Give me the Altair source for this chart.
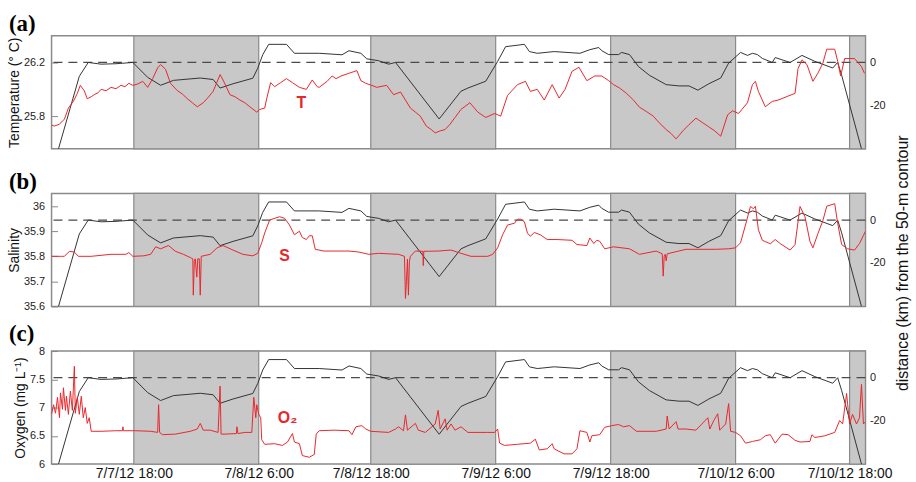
import altair as alt
import pandas as pd

# Time axis: hours after 7/7/12 18:00
X_DOMAIN = [-8.5, 73.6]
night_start = [-0.2, 23.7, 47.9, 72.0]
night_end = [12.4, 36.3, 60.5, 73.6]
tick_hours = [-0.2, 12.4, 23.7, 36.3, 47.9, 60.5, 72.0]
tick_labels = ["7/7/12 18:00", "7/8/12 6:00", "7/8/12 18:00", "7/9/12 6:00",
               "7/9/12 18:00", "7/10/12 6:00", "7/10/12 18:00"]

# Distance (km) from the 50-m contour: [hour, km]
distance = [
    [-7.8, -40.5], [-5.7, -6.5], [-4.8, 0.0], [-3.5, -0.8], [-2.0, -0.6], [-0.3, 0.0],
    [1.2, -7.0], [2.5, -10.7], [3.8, -8.4], [6.5, -7.3], [7.8, -8.0], [8.5, -12.0],
    [9.8, -10.0], [11.8, -7.4], [12.3, -2.7], [12.8, 3.6], [13.4, 8.5], [15.2, 8.5],
    [16.0, 4.3], [18.5, 4.3], [20.8, 3.6], [21.5, 5.5], [22.7, 4.3], [23.3, 1.7],
    [24.5, 0.8], [25.5, -0.8], [26.2, 0.0], [30.6, -26.5], [32.8, -13.5], [33.5, -12.0],
    [35.3, -8.8], [36.5, 0.5], [37.3, 7.4], [39.2, 8.5], [39.7, 5.1], [40.5, 4.3],
    [42.2, 5.1], [44.8, 4.3], [45.8, 6.0], [46.7, 7.0], [47.0, 5.5], [47.7, 3.7],
    [48.7, 3.7], [49.0, 4.7], [49.8, 3.7], [50.7, -1.9], [51.8, -6.0], [53.5, -10.4],
    [54.8, -11.0], [55.8, -11.0], [56.7, -13.0], [57.8, -10.0], [59.0, -7.3], [59.8, -0.3],
    [61.0, 4.7], [61.7, 3.3], [62.2, 4.3], [62.7, 3.7], [63.2, 1.9], [64.2, 0.0],
    [64.5, 2.3], [66.0, 0.0], [67.2, 3.3], [68.5, 0.5], [70.3, -2.6], [70.8, 0.0],
    [71.2, -6.0], [73.2, -40.5],
]

# Temperature (deg C): [hour, value]
temperature = [
    [-8.5, 25.733], [-8.2, 25.726], [-7.7, 25.74], [-7.2, 25.778], [-6.8, 25.86], [-6.3, 25.91],
    [-5.9, 25.97], [-5.6, 26.03], [-5.2, 25.99], [-4.9, 25.93], [-4.5, 25.945], [-4.2, 25.96],
    [-3.8, 25.975], [-3.5, 26.0], [-3.0, 25.99], [-2.5, 26.015], [-2.0, 26.005], [-1.5, 26.03],
    [-1.1, 26.02], [-0.7, 26.045], [-0.3, 26.03], [0.2, 26.04], [0.7, 26.06],
    [1.2, 26.015], [1.7, 26.08], [2.2, 26.16], [2.5, 26.185], [3.0, 26.15], [3.5, 26.045],
    [4.2, 25.99], [4.7, 25.965], [5.2, 25.93], [5.7, 25.9], [6.2, 25.87], [6.8, 25.9],
    [7.3, 25.94], [7.8, 25.985], [8.5, 26.11],
    [8.8, 26.07], [9.5, 25.96], [10.0, 25.945], [10.5, 25.92], [11.0, 25.9], [11.5, 25.87],
    [12.2, 25.83], [12.5, 25.85],
    [13.0, 25.86], [13.2, 25.93], [13.6, 26.05], [14.0, 26.02], [14.6, 26.05], [15.2, 26.08],
    [15.8, 26.05], [16.5, 26.015], [17.2, 26.0], [17.8, 26.07], [18.3, 26.02], [18.5, 26.015],
    [19.3, 26.06], [19.8, 26.1], [20.2, 26.08], [20.7, 26.1], [21.5, 26.12], [22.3, 26.14],
    [22.7, 26.065], [23.2, 26.045], [23.8, 26.03],
    [24.3, 26.015], [25.3, 26.03], [26.0, 25.96], [26.7, 25.98], [27.2, 25.92], [27.7, 25.86],
    [28.2, 25.83], [28.7, 25.8], [29.3, 25.726], [29.8, 25.7], [30.2, 25.675], [30.7, 25.69],
    [31.2, 25.7], [31.7, 25.74], [32.2, 25.79], [32.8, 25.85], [33.7, 25.9],
    [34.5, 25.83], [35.3, 25.79], [36.2, 25.82], [36.8, 25.8], [37.5, 25.955], [38.5, 26.035],
    [39.3, 26.06], [39.8, 25.985], [40.5, 26.0], [41.2, 25.92], [42.0, 26.035], [42.7, 25.935],
    [43.3, 26.0], [44.0, 26.135], [44.7, 26.165], [45.5, 26.065], [46.3, 26.1], [47.0, 26.1],
    [47.7, 26.065], [48.2, 26.035], [48.8, 26.01], [49.5, 25.97], [50.2, 25.92], [50.8, 25.867],
    [51.5, 25.835], [52.2, 25.8], [52.8, 25.75], [53.5, 25.7], [54.0, 25.67],
    [54.5, 25.63], [55.3, 25.7], [56.0, 25.75], [56.5, 25.785], [57.2, 25.75], [57.8, 25.72],
    [58.4, 25.69], [59.0, 25.65], [59.7, 25.81],
    [60.2, 25.84], [60.8, 25.82], [61.7, 25.9], [62.2, 26.035], [62.5, 26.06], [62.8, 25.985],
    [63.5, 25.87], [64.2, 25.91], [64.8, 25.92], [65.3, 25.935], [65.8, 25.95], [66.5, 25.97],
    [66.8, 26.155], [67.2, 26.22], [67.7, 26.185], [68.3, 26.06], [68.8, 26.12], [69.3, 26.195],
    [69.7, 26.3], [70.5, 26.3], [70.8, 26.21], [71.1, 26.1], [71.5, 26.23], [72.5, 26.23],
    [73.2, 26.17], [73.5, 26.12],
]

# Salinity: [hour, value]
salinity = [
    [-8.5, 35.80], [-7.5, 35.80], [-7.2, 35.80], [-6.7, 35.82], [-6.2, 35.817], [-5.8, 35.80],
    [-4.5, 35.80], [-2.5, 35.808], [-1.0, 35.808], [-0.7, 35.815], [-0.3, 35.80], [0.8, 35.802],
    [1.5, 35.808], [2.0, 35.838], [2.5, 35.83], [3.3, 35.843], [4.0, 35.82], [4.8, 35.808],
    [5.5, 35.795], [5.75, 35.79], [5.8, 35.645], [5.9, 35.78], [6.0, 35.79], [6.15, 35.717],
    [6.25, 35.79], [6.4, 35.79], [6.5, 35.645], [6.6, 35.80], [7.5, 35.808], [8.2, 35.834],
    [8.8, 35.843], [9.8, 35.825], [10.8, 35.808], [11.8, 35.802], [12.3, 35.812], [12.7, 35.854],
    [13.0, 35.893], [13.5, 35.945], [14.5, 35.958], [15.0, 35.952], [15.5, 35.925], [16.0, 35.886],
    [16.5, 35.90], [16.8, 35.875], [17.2, 35.867], [17.5, 35.882], [17.8, 35.882], [18.1, 35.828],
    [19.0, 35.821], [21.5, 35.821], [22.5, 35.817], [23.5, 35.808], [24.5, 35.812], [26.5, 35.808],
    [27.1, 35.80], [27.2, 35.632], [27.3, 35.70], [27.4, 35.789], [27.5, 35.645], [27.6, 35.78],
    [27.7, 35.80], [28.2, 35.821], [28.95, 35.82], [29.0, 35.763], [29.05, 35.82], [30.5, 35.821],
    [31.8, 35.825], [32.8, 35.812], [33.8, 35.80], [35.5, 35.80], [36.0, 35.808], [36.5, 35.834],
    [37.0, 35.886], [37.5, 35.925], [38.2, 35.932], [38.5, 35.948], [38.8, 35.948], [39.2, 35.938],
    [39.5, 35.893], [39.8, 35.88], [40.2, 35.895], [40.8, 35.886], [41.5, 35.867], [42.5, 35.867],
    [44.0, 35.864], [44.5, 35.847], [45.5, 35.843], [45.8, 35.873], [46.2, 35.851], [46.5, 35.864],
    [46.8, 35.86], [47.3, 35.83], [48.2, 35.838], [49.8, 35.83], [50.8, 35.808], [52.5, 35.821],
    [53.1, 35.81], [53.2, 35.721], [53.3, 35.80], [53.4, 35.808], [53.5, 35.782], [53.6, 35.81],
    [55.5, 35.828], [58.5, 35.828], [59.8, 35.83], [60.5, 35.834], [61.0, 35.854], [61.5, 35.925],
    [62.0, 35.999], [62.3, 35.99], [62.5, 36.0], [62.8, 35.906], [63.2, 35.864], [64.0, 35.85],
    [64.5, 35.867], [65.0, 35.851], [66.0, 35.825], [66.5, 35.847], [67.0, 35.999], [67.5, 35.958],
    [68.0, 35.86], [68.3, 35.834], [68.8, 35.89], [69.3, 35.942], [69.7, 36.0], [70.5, 36.01],
    [70.8, 35.932], [71.2, 35.847], [71.8, 35.83], [72.5, 35.825], [73.0, 35.851], [73.6, 35.90],
]

# Oxygen (mg/L): [hour, value]
oxygen = [
    [-8.5, 6.88], [-8.3, 7.05], [-8.1, 6.9], [-7.9, 7.18], [-7.7, 6.82], [-7.6, 7.26],
    [-7.4, 6.97], [-7.3, 7.35], [-7.1, 6.95], [-7.0, 7.2], [-6.8, 6.88], [-6.6, 7.29],
    [-6.4, 6.95], [-6.2, 7.73], [-6.1, 6.9], [-5.9, 7.18], [-5.7, 6.88], [-5.5, 7.2],
    [-5.3, 6.82], [-5.1, 7.0], [-4.9, 6.72], [-4.7, 6.82], [-4.5, 6.58], [-3.5, 6.58],
    [-2.0, 6.59], [-1.35, 6.59], [-1.3, 6.66], [-1.25, 6.59], [0.0, 6.59], [1.5, 6.58],
    [2.2, 6.56], [2.3, 7.05], [2.4, 6.56], [2.7, 6.52], [4.0, 6.53], [5.5, 6.58],
    [6.2, 6.62], [6.5, 6.72], [6.8, 6.6], [7.5, 6.6], [8.3, 6.56], [8.5, 7.38],
    [8.6, 6.53], [9.0, 6.53], [10.15, 6.54], [10.2, 6.66], [10.3, 6.54], [11.0, 6.56],
    [11.7, 6.56], [11.9, 7.18], [12.1, 6.82], [12.2, 7.05], [12.4, 6.88], [12.6, 6.82],
    [12.7, 6.43], [13.0, 6.35], [14.0, 6.36], [14.8, 6.33], [15.3, 6.39], [15.8, 6.54],
    [16.0, 6.39], [16.5, 6.36], [16.8, 6.15], [17.5, 6.12], [18.0, 6.17], [18.2, 6.53],
    [18.5, 6.59], [20.0, 6.6], [21.5, 6.59], [21.8, 6.52], [22.2, 6.66], [22.8, 6.68],
    [23.2, 6.62], [23.7, 6.58], [25.5, 6.56], [26.2, 6.62], [26.5, 6.66], [27.0, 6.59],
    [27.2, 6.87], [27.4, 6.6], [28.2, 6.72], [28.5, 6.6], [29.2, 6.56], [30.2, 6.71],
    [30.5, 6.95], [30.7, 6.62], [31.2, 6.8], [31.4, 6.6], [31.8, 6.71], [32.2, 6.6],
    [32.8, 6.66], [33.5, 6.56], [35.5, 6.56], [36.2, 6.56], [36.5, 6.62], [36.7, 6.37],
    [37.2, 6.33], [38.5, 6.35], [39.8, 6.37], [40.3, 6.44], [40.7, 6.25], [41.5, 6.27],
    [42.0, 6.36], [42.2, 6.27], [43.2, 6.18], [44.0, 6.18], [44.5, 6.27], [44.8, 6.59],
    [45.5, 6.56], [45.8, 6.39], [46.0, 6.50], [46.8, 6.52], [47.3, 6.65], [48.0, 6.68],
    [48.7, 6.70], [49.2, 6.66], [49.8, 6.68], [50.5, 6.58], [52.5, 6.58], [53.5, 6.62],
    [53.6, 6.85], [53.8, 6.62], [54.5, 6.75], [54.7, 6.62], [55.5, 6.62], [56.5, 6.6],
    [57.7, 6.82], [57.9, 6.62], [58.3, 6.77], [58.7, 6.89], [58.9, 6.6], [59.5, 6.71],
    [59.8, 7.07], [60.0, 6.58], [60.5, 6.56], [61.0, 6.5], [61.5, 6.37], [62.2, 6.40],
    [63.0, 6.43], [63.5, 6.5], [64.0, 6.52], [64.5, 6.37], [65.2, 6.53], [65.8, 6.52],
    [66.5, 6.42], [67.0, 6.39], [68.0, 6.40], [68.2, 6.52], [68.5, 6.47], [69.5, 6.5],
    [70.5, 6.56], [71.0, 6.77], [71.3, 6.71], [71.7, 7.25], [72.0, 6.71], [72.3, 6.88],
    [72.7, 6.71], [73.0, 6.82], [73.2, 7.41], [73.4, 6.71], [73.6, 6.75],
]

# In-panel series labels: [hour, value, text]
temp_label = [16.7, 25.896, "T"]
sal_label = [15.0, 35.80, "S"]
oxy_label = [15.3, 6.82, "O₂"]

RED = "#e8262c"
BLACK = "#333333"
SHADE = "#c8c8c8"
EDGE = "#8a8a8a"
FONT = "Liberation Sans"
W, H = 821, 114
RIGHT_DOMAIN = [-40.5, 12.5]
RIGHT_TITLE = "distance (km) from the 50-m contour"

nights = pd.DataFrame({"start": night_start, "end": night_end})
dist_df = pd.DataFrame(distance, columns=["h", "km"])
zero_df = pd.DataFrame({"km": [0]})

label_expr = " : ".join(
    f"datum.value == {v} ? '{t}'" for v, t in zip(tick_hours, tick_labels)
) + " : ''"

x_scale = alt.Scale(domain=X_DOMAIN, nice=False, zero=False)
right_scale = alt.Scale(domain=RIGHT_DOMAIN, nice=False, zero=False)


def xenc(field, show_axis):
    if show_axis:
        axis = alt.Axis(values=tick_hours, labelExpr=label_expr, title=None, ticks=False,
                        labelFontSize=14, labelPadding=3, labelOverlap=False,
                        labelFlush=False, labelColor="#111")
    else:
        axis = None
    return alt.X(f"{field}:Q", scale=x_scale, axis=axis)


def panel(series, domain, ticks, left_title, letter, label, with_right_title, show_x):
    df = pd.DataFrame(series, columns=["h", "v"])
    lab = pd.DataFrame([label], columns=["h", "v", "t"])
    left_scale = alt.Scale(domain=domain, nice=False, zero=False)

    shade = alt.Chart(nights).mark_rect(
        fill=SHADE, stroke=EDGE, strokeWidth=1.2
    ).encode(x=xenc("start", show_x), x2="end:Q")

    right_axis_kw = dict(orient="right", values=[-20, 0], labelExpr="datum.value + ''",
                         offset=-6, tickSize=6, labelPadding=4)
    if with_right_title:
        # one shared title, centred on the middle panel
        right_axis_kw.update(title=RIGHT_TITLE, titleAngle=270, titleBaseline="top",
                             titleFontSize=16, titlePadding=10, titleY=229)
    else:
        right_axis_kw.update(title=None)

    dist = alt.Chart(dist_df).mark_line(color=BLACK, strokeWidth=1, clip=True).encode(
        x=xenc("h", show_x),
        y=alt.Y("km:Q", scale=right_scale, axis=alt.Axis(**right_axis_kw)),
    )

    zero = alt.Chart(zero_df).mark_rule(
        color="#4a4a4a", strokeDash=[9, 6], strokeWidth=1.3
    ).encode(y=alt.Y("km:Q", scale=right_scale, axis=None))

    line = alt.Chart(df).mark_line(color=RED, strokeWidth=1, clip=True).encode(
        x=xenc("h", show_x),
        y=alt.Y("v:Q", scale=left_scale,
                axis=alt.Axis(orient="left", values=ticks, labelExpr="datum.value + ''",
                              offset=-6, tickSize=6, labelPadding=7,
                              title=left_title, titlePadding=2)),
    )

    text = alt.Chart(lab).mark_text(
        color=RED, font=FONT, fontWeight="bold", fontSize=16
    ).encode(
        x=xenc("h", show_x),
        y=alt.Y("v:Q", scale=left_scale, axis=None),
        text="t:N",
    )

    return alt.layer(shade, zero, dist, line, text).resolve_scale(y="independent").properties(
        width=W, height=H,
        title=alt.TitleParams(letter, anchor="start", frame="group", dx=-43, dy=3, offset=2,
                              font="Liberation Serif", fontSize=23, fontWeight="bold",
                              color="black"),
    )


pa = panel(temperature, [25.556, 26.4], [25.8, 26.2], "Temperature (° C)", "(a)",
           temp_label, True, False)
pb = panel(salinity, [35.6, 36.051], [35.6, 35.7, 35.8, 35.9, 36.0], "Salinity", "(b)",
           sal_label, False, False)
pc = panel(oxygen, [6, 8], [6, 6.5, 7, 7.5, 8], "Oxygen (mg L⁻¹)", "(c)",
           oxy_label, False, True)

chart = alt.vconcat(pa, pb, pc, spacing=45, bounds="flush").properties(
    padding={"left": 6, "top": 10, "right": 4, "bottom": 0},
    background="white",
).configure_view(
    stroke=EDGE, strokeWidth=1.5
).configure_axis(
    domain=False, grid=False, labelFont=FONT, labelFontSize=11, labelColor="#222",
    titleFont=FONT, titleFontSize=14, titleFontWeight="normal", titleColor="#111",
    tickColor="#888888", tickWidth=1,
)

chart.save("out.html", embed_options={"renderer": "svg", "actions": False})
